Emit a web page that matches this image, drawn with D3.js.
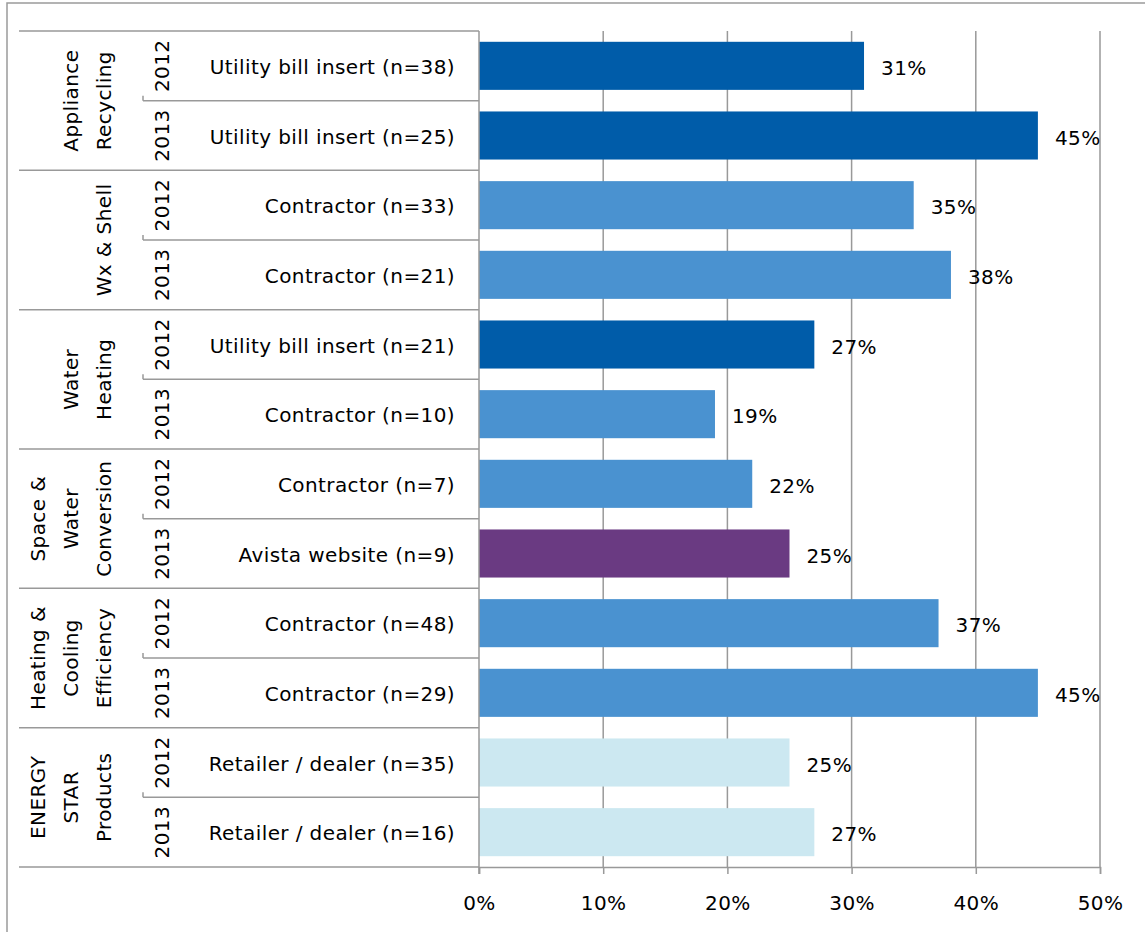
<!DOCTYPE html>
<html>
<head>
<meta charset="utf-8">
<script src="https://cdn.jsdelivr.net/npm/d3@7"></script>
<style>
  html, body { margin: 0; padding: 0; background: #fff; }
  svg { display: block; }
  text { font-family: "DejaVu Sans", sans-serif; font-size: 20px; letter-spacing: 0.4px; fill: #000; }
</style>
</head>
<body>
<svg id="chart" width="1145" height="932"></svg>
<script>
// ---- data ----
const groups = [
  ["Appliance", "Recycling"],
  ["Wx & Shell"],
  ["Water", "Heating"],
  ["Space &", "Water", "Conversion"],
  ["Heating &", "Cooling", "Efficiency"],
  ["ENERGY", "STAR", "Products"]
];
const years = ["2012", "2013", "2012", "2013", "2012", "2013", "2012", "2013", "2012", "2013", "2012", "2013"];
const labels = [
  "Utility bill insert (n=38)", "Utility bill insert (n=25)",
  "Contractor (n=33)", "Contractor (n=21)",
  "Utility bill insert (n=21)", "Contractor (n=10)",
  "Contractor (n=7)", "Avista website (n=9)",
  "Contractor (n=48)", "Contractor (n=29)",
  "Retailer / dealer (n=35)", "Retailer / dealer (n=16)"
];
const values = [0.31, 0.45, 0.35, 0.38, 0.27, 0.19, 0.22, 0.25, 0.37, 0.45, 0.25, 0.27];
const channels = [
  "Utility bill insert", "Utility bill insert",
  "Contractor", "Contractor",
  "Utility bill insert", "Contractor",
  "Contractor", "Avista website",
  "Contractor", "Contractor",
  "Retailer / dealer", "Retailer / dealer"
];
const channelNames = ["Utility bill insert", "Contractor", "Avista website", "Retailer / dealer"];
const channelColors = ["#005CA9", "#4A92D0", "#6A3A82", "#CCE8F1"];
const xTicks = [0, 0.1, 0.2, 0.3, 0.4, 0.5];

// ---- layout ----
const svg = d3.select("#chart");
const gridColor = "#999999";
const plotLeft = 479, plotRight = 1100, plotTop = 31, plotBottom = 867;
const groupLeft = 19, yearLeft = 143;

const x = d3.scaleLinear().domain([0, 0.5]).range([plotLeft, plotRight]);
const y = d3.scaleBand().domain(d3.range(values.length)).range([plotTop, plotBottom])
  .paddingInner(0.31).paddingOuter(0.155);
const color = d3.scaleOrdinal().domain(channelNames).range(channelColors);
const rowTop = i => y(i) - (y.step() - y.bandwidth()) / 2;
const rowMid = i => y(i) + y.bandwidth() / 2;

// outer border
svg.append("rect").attr("x", 7).attr("y", 3).attr("width", 1160).attr("height", 960)
  .attr("fill", "none").attr("stroke", "#9a9a9a").attr("stroke-width", 1.5);

// gridlines
svg.append("g").selectAll("line").data(xTicks.slice(1)).join("line")
  .attr("x1", d => x(d)).attr("x2", d => x(d))
  .attr("y1", plotTop).attr("y2", plotBottom)
  .attr("stroke", gridColor).attr("stroke-width", 1.5);

// bars
svg.append("g").selectAll("rect").data(values).join("rect")
  .attr("x", x(0)).attr("y", (d, i) => y(i))
  .attr("width", d => x(d) - x(0)).attr("height", y.bandwidth())
  .attr("fill", (d, i) => color(channels[i]));

// value labels
svg.append("g").selectAll("text").data(values).join("text")
  .attr("x", d => x(d) + 17).attr("y", (d, i) => rowMid(i) + 2)
  .attr("dominant-baseline", "central")
  .text(d => d3.format(".0%")(d));

// x axis
const xAxis = d3.axisBottom(x).tickValues(xTicks).tickFormat(d3.format(".0%")).tickSize(7).tickPadding(22);
const ax = svg.append("g").attr("transform", `translate(0,${plotBottom})`).call(xAxis);
ax.select(".domain").attr("stroke", gridColor).attr("stroke-width", 1.5);
ax.selectAll(".tick line").attr("stroke", gridColor).attr("stroke-width", 1.5);
ax.selectAll(".tick text").attr("font-family", null).attr("font-size", null).attr("fill", "#000");
ax.attr("font-family", null).attr("font-size", null);

// left table lines
const tbl = svg.append("g").attr("stroke", gridColor).attr("stroke-width", 1.5);
// vertical axis line
tbl.append("line").attr("x1", plotLeft).attr("x2", plotLeft).attr("y1", plotTop).attr("y2", plotBottom + 7);
// group boundaries
const groupStarts = [];
let idx = 0;
groups.forEach(g => { groupStarts.push(idx); idx += 2; });
tbl.selectAll("line.grp").data(groupStarts.concat([values.length])).join("line").attr("class", "grp")
  .attr("x1", groupLeft).attr("x2", plotLeft)
  .attr("y1", d => d < values.length ? rowTop(d) : plotBottom)
  .attr("y2", d => d < values.length ? rowTop(d) : plotBottom);
// inner year boundaries
const inner = groupStarts.map(s => s + 1);
tbl.selectAll("line.inner").data(inner).join("line").attr("class", "inner")
  .attr("x1", yearLeft).attr("x2", plotLeft)
  .attr("y1", d => rowTop(d)).attr("y2", d => rowTop(d));
tbl.selectAll("line.itick").data(inner).join("line").attr("class", "itick")
  .attr("x1", yearLeft).attr("x2", yearLeft)
  .attr("y1", d => rowTop(d) - 5).attr("y2", d => rowTop(d));

// category labels
svg.append("g").selectAll("text").data(labels).join("text")
  .attr("x", plotLeft - 24).attr("y", (d, i) => rowMid(i) + 1)
  .attr("text-anchor", "end").attr("dominant-baseline", "central")
  .text(d => d);

// year labels (rotated)
svg.append("g").selectAll("text").data(years).join("text")
  .attr("transform", (d, i) => `translate(162,${rowMid(i)}) rotate(-90)`)
  .attr("text-anchor", "middle").attr("dominant-baseline", "central")
  .text(d => d);

// group labels (rotated, multi-line)
const gl = svg.append("g").selectAll("g").data(groups).join("g")
  .attr("transform", (d, gi) => {
    const s = groupStarts[gi];
    const cy = (rowTop(s) + rowTop(s) + 2 * y.step()) / 2;
    return `translate(0,${cy})`;
  });
gl.selectAll("text").data(d => d.map((t, k) => ({ t, k, n: d.length }))).join("text")
  .attr("transform", d => `translate(${104 - (d.n - 1 - d.k) * 33},0) rotate(-90)`)
  .attr("text-anchor", "middle").attr("dominant-baseline", "central")
  .text(d => d.t);
</script>
</body>
</html>
